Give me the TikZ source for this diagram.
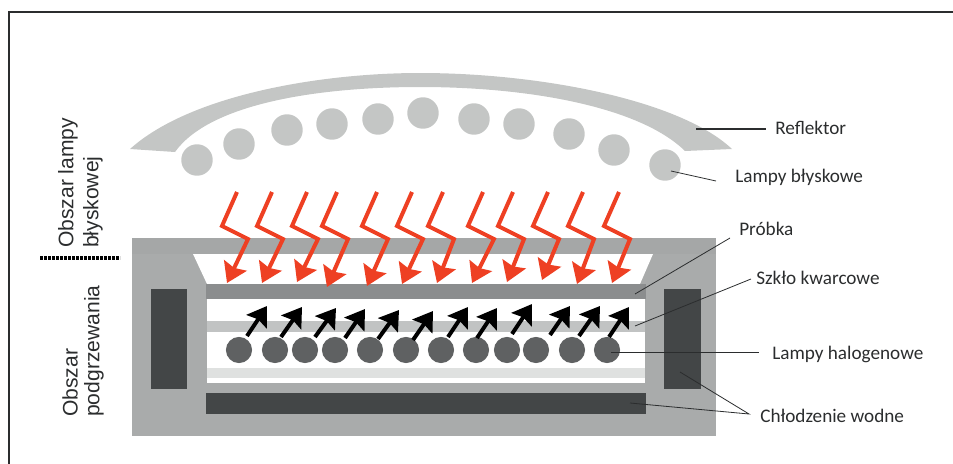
\documentclass[tikz,border=0pt]{standalone}
\usepackage{fontspec}
\setmainfont{Carlito}
\newfontfamily\leftfont{Liberation Sans}
\usetikzlibrary{arrows.meta, fit}
\definecolor{shellgrey}{HTML}{A9ABAB}
\definecolor{topgrey}{HTML}{A5A7A7}
\definecolor{samplegrey}{HTML}{8B8D8E}
\definecolor{coolgrey}{HTML}{434647}
\definecolor{quartzgrey}{HTML}{C1C3C3}
\definecolor{quartzpale}{HTML}{DFE1E0}
\definecolor{reflgrey}{HTML}{C4C6C5}
\definecolor{halogrey}{HTML}{5F6162}
\definecolor{flashred}{HTML}{EE4023}
\definecolor{inkgrey}{HTML}{2B2D2E}
\begin{document}
\begin{tikzpicture}[
  x=0.75pt, y=-0.75pt,
  plate/.style={fit={#1}, inner sep=0pt, outer sep=0pt, draw=none},
  flashlamp/.style={circle, fill=reflgrey, inner sep=0pt, minimum size=23.6pt},
  halolamp/.style={circle, fill=halogrey, inner sep=0pt, minimum size=19.6pt},
  flashray/.style={draw=flashred, line width=3pt, line join=miter,
                   -{Stealth[length=14.5pt, width=18.5pt, inset=2pt]}},
  heatray/.style={draw=black, line width=3pt,
                  -{Stealth[length=14pt, width=18pt, inset=2pt]}},
  leader/.style={draw=inkgrey, line width=0.6pt},
  lab/.style={font=\fontsize{14.4}{16}\selectfont, text=inkgrey, inner sep=0pt, anchor=west},
  side/.style={font=\leftfont\fontsize{15.8}{18}\selectfont, text=inkgrey, inner sep=0pt,
               rotate=90, anchor=west}
]
  \useasboundingbox (0,0) rectangle (953,464);
  % frame
  \draw[line width=0.8pt, draw=inkgrey] (953,12) -- (9,12) -- (9,464);
  % reflector
  \fill[reflgrey] (130,149) .. controls (190,95) and (320,73) .. (420,73)
    .. controls (540,73) and (680,100) .. (732,149) -- (685,151)
    .. controls (640,107) and (530,87) .. (420,87)
    .. controls (320,87) and (210,103) .. (175,152) -- cycle;
  \foreach \x/\y [count=\i] in {197/160, 239/144, 287/130, 332/124, 378/119, 423/113,
                                474/119, 519/124, 569/134, 614/150, 665/165}
    \node[flashlamp] (F\i) at (\x,\y) {};
  % housing
  \node[plate={(132,238) (716,436)}, fill=shellgrey] (shell) {};
  \node[plate={(132,238) (716,254)}, fill=topgrey] (lid) {};
  \fill[white] (193,254) -- (653,254) -- (640,284) -- (207,284) -- cycle;
  \node[plate={(207,299) (645,383)}, fill=white] (chamber) {};
  \node[plate={(206,284) (646,299)}, fill=samplegrey] (sample) {};
  \node[plate={(207,321) (645,332)}, fill=quartzgrey] (quartzA) {};
  \node[plate={(207,368) (645,378)}, fill=quartzpale] (quartzB) {};
  \node[plate={(206,393) (646,414)}, fill=coolgrey] (coolB) {};
  \node[plate={(151,289) (187,389)}, fill=coolgrey] (coolL) {};
  \node[plate={(664,289) (701,389)}, fill=coolgrey] (coolR) {};
  % halogen lamps
  \foreach \x [count=\i] in {239,275,305,335,370,406,441,476,507,536,572,607}
    \node[halolamp] (H\i) at (\x,350) {};
  % rays
  \foreach \x/\t/\h in {237/227/283, 272/262/283, 307/297/282, 337/327/287,
                        377/367/286, 412/402/284, 443/437/283, 483/472/283,
                        513/507/282, 548/542/280, 583/577/284, 619/612/283}
    \draw[flashray] (\x,192) -- (\x-15,226) -- (\x+11,239) -- (\t,\h);
  \foreach \a/\b/\c/\d in {247/336/267/306, 281/337/302/307, 315/337/336/308,
                           345/338/365/309, 378/339/399/310, 413/340/433/311,
                           448/337/468/307, 477/338/497/308, 512/334/532/304,
                           550/335/570/306, 579/336/600/306, 609/337/629/307}
    \draw[heatray] (\a,\b) -- (\c,\d);
  % labels
  \node[lab] (reflektor) at (775,128) {Reflektor};
  \node[lab] (blyskowe) at (735,177) {Lampy błyskowe};
  \node[lab] (probka) at (739,229) {Próbka};
  \node[lab] (szklo) at (756,278) {Szkło kwarcowe};
  \node[lab] (halogen) at (772,354) {Lampy halogenowe};
  \node[lab] (woda) at (760,416) {Chłodzenie wodne};
  \node[side] (obszarA) at (68,248) {Obszar lampy};
  \node[side] (obszarB) at (93,248) {błyskowej};
  \node[side] (obszarC) at (70,417) {Obszar};
  \node[side] (obszarD) at (94,417) {podgrzewania};
  % leaders
  \coordinate (reflIn) at (696,129);
  \coordinate (reflOut) at (766,129);
  \coordinate (flashIn) at (671,171);
  \coordinate (flashOut) at (716,181);
  \coordinate (probIn) at (635,294);
  \coordinate (probOut) at (730,238);
  \coordinate (szkIn) at (635,326);
  \coordinate (szkOut) at (751,279);
  \coordinate (haloIn) at (611,352);
  \coordinate (haloOut) at (759,352);
  \coordinate (wodaOut) at (749,414);
  \coordinate (wodaR) at (680,372);
  \coordinate (wodaB) at (630,403);
  \draw[leader, line width=0.9pt] (reflIn) -- (reflOut);
  \draw[leader] (flashIn) -- (flashOut);
  \draw[leader] (probIn) -- (probOut);
  \draw[leader] (szkIn) -- (szkOut);
  \draw[leader] (haloIn) -- (haloOut);
  \draw[leader] (wodaR) -- (wodaOut) -- (wodaB);
  % divider
  \draw[black, line width=3pt, dash pattern=on 2.4pt off 0.6pt] (40,258) -- (120,258);
\end{tikzpicture}
\end{document}
